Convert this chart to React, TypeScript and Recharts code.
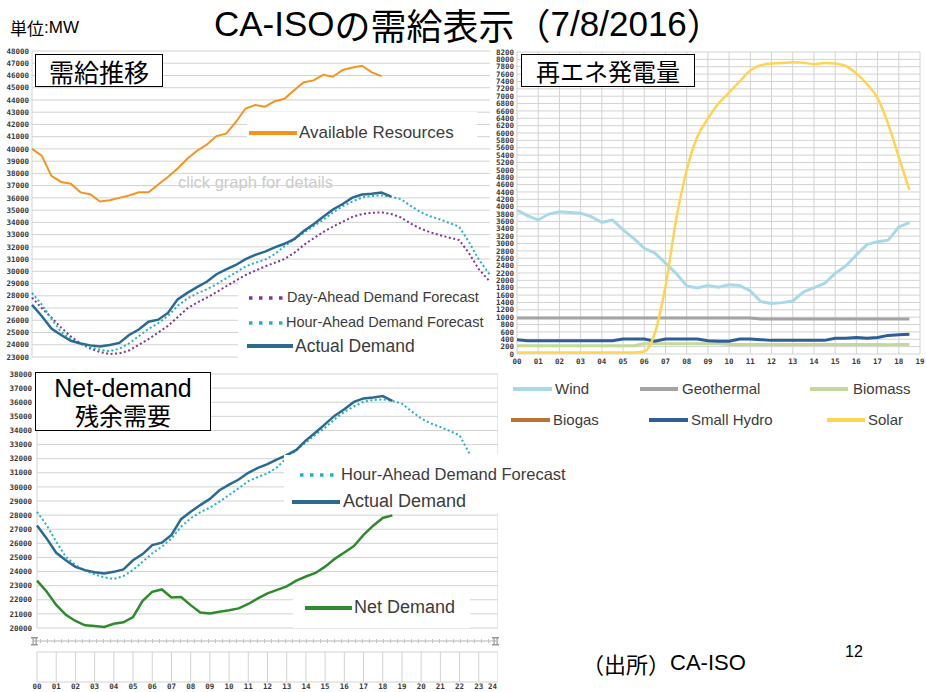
import React from 'react';
import { LineChart, Line, XAxis, YAxis, CartesianGrid, ReferenceLine } from 'recharts';

const range = (start: number, end: number, step: number) => {
  const out: number[] = [];
  for (let v = start; v <= end + 1e-9; v += step) out.push(Math.round(v * 100) / 100);
  return out;
};

// half-hour time grid 00:00 - 24:00
const HOURS = range(0, 24, 0.5);
const HOUR_TICKS = range(0, 24, 1);
const RE_HOUR_TICKS = range(0, 19, 1);
const SUPPLY_TICKS = range(23000, 48000, 1000);
const NET_TICKS = range(20000, 38000, 1000);
const RE_TICKS = range(0, 8200, 200);
const NAV_TICKS = [0, 1000];

// 需給推移 (MW), every 30 min
const AVAILABLE = [40000, 39450, 37800, 37300, 37150, 36450, 36300, 35700, 35800, 36000, 36200, 36450, 36450, 37100, 37700, 38400, 39200, 39850, 40350, 41050, 41250, 42200, 43300, 43590, 43450, 43900, 44100, 44800, 45450, 45600, 46050, 45900, 46450, 46650, 46800, 46250, 45950];
const DAY_AHEAD = [27850, 27000, 26230, 25400, 24680, 24100, 23690, 23400, 23250, 23300, 23530, 24000, 24460, 25000, 25540, 26250, 26970, 27450, 27850, 28300, 28780, 29250, 29700, 30050, 30400, 30700, 31000, 31500, 32150, 32700, 33200, 33650, 34050, 34450, 34680, 34780, 34820, 34680, 34400, 33900, 33500, 33200, 32950, 32750, 32550, 31500, 30200, 29300, 28400];
const HOUR_AHEAD = [28230, 27290, 26110, 25050, 24460, 24060, 23800, 23590, 23470, 23680, 24110, 24700, 25290, 25760, 26350, 27180, 27770, 28200, 28530, 28950, 29430, 29900, 30400, 30700, 30950, 31400, 32050, 32600, 33150, 33700, 34200, 34800, 35320, 35700, 36040, 36150, 36200, 36100, 35900, 35350, 34850, 34500, 34250, 33950, 33650, 32400, 31000, 29900, 28900];
const ACTUAL = [27260, 26350, 25330, 24800, 24330, 24100, 23950, 23860, 23980, 24150, 24800, 25240, 25880, 26050, 26600, 27710, 28240, 28710, 29150, 29760, 30160, 30520, 31000, 31350, 31610, 31950, 32250, 32620, 33300, 33850, 34450, 35050, 35500, 36020, 36270, 36340, 36440, 36100];
const NET_DEMAND = [23360, 22590, 21640, 20930, 20500, 20190, 20140, 20070, 20300, 20400, 20780, 21920, 22560, 22730, 22160, 22200, 21620, 21100, 21030, 21150, 21260, 21390, 21700, 22100, 22450, 22700, 22950, 23350, 23650, 23900, 24350, 24900, 25350, 25800, 26600, 27250, 27800, 27980];

// 再エネ発電量 (MW), every 30 min
const WIND = [3910, 3750, 3640, 3800, 3865, 3840, 3820, 3730, 3570, 3640, 3370, 3140, 2870, 2740, 2470, 2190, 1850, 1790, 1860, 1815, 1880, 1860, 1710, 1420, 1370, 1395, 1440, 1680, 1800, 1915, 2190, 2390, 2690, 2970, 3050, 3090, 3450, 3570];
const GEOTHERMAL = [975, 975, 975, 975, 975, 975, 975, 975, 975, 975, 975, 975, 975, 975, 975, 975, 975, 975, 975, 975, 975, 975, 975, 950, 950, 950, 950, 950, 950, 950, 950, 950, 950, 950, 950, 950, 950, 950];
const BIOMASS = [225, 225, 225, 225, 225, 225, 225, 225, 225, 225, 225, 225, 280, 280, 280, 280, 280, 280, 280, 280, 255, 255, 255, 255, 255, 255, 255, 255, 255, 255, 255, 255, 255, 255, 260, 250, 255, 255];
const SMALL_HYDRO = [385, 360, 360, 360, 360, 360, 360, 360, 360, 360, 405, 405, 405, 345, 405, 405, 405, 405, 360, 345, 345, 405, 405, 390, 370, 370, 370, 370, 370, 370, 430, 430, 450, 425, 450, 505, 525, 535];
const SOLAR = [40, 40, 40, 40, 40, 40, 40, 40, 40, 40, 40, 40, 70, 570, 1830, 3640, 4990, 5900, 6390, 6800, 7100, 7400, 7700, 7840, 7890, 7900, 7920, 7910, 7870, 7900, 7890, 7820, 7620, 7330, 6950, 6250, 5350, 4450];

const at = (arr: number[], i: number) => (i < arr.length ? arr[i] : null);

const demandRows = HOURS.map((h, i) => ({
  h,
  avail: at(AVAILABLE, i),
  dayAhead: at(DAY_AHEAD, i),
  hourAhead: at(HOUR_AHEAD, i),
  actual: at(ACTUAL, i),
  net: at(NET_DEMAND, i),
}));

const reRows = HOURS.filter((h) => h <= 19).map((h, i) => ({
  h,
  wind: at(WIND, i),
  geo: at(GEOTHERMAL, i),
  biomass: at(BIOMASS, i),
  hydro: at(SMALL_HYDRO, i),
  solar: at(SOLAR, i),
}));

const C = {
  avail: '#f7931e',
  dayAhead: '#80379a',
  hourAhead: '#22b3c0',
  actual: '#2a6a93',
  net: '#2e8b2e',
  wind: '#a9d9e8',
  geo: '#a3a3a3',
  biomass: '#c4d89c',
  biogas: '#b8733a',
  hydro: '#2f5d97',
  solar: '#ffd451',
  grid: '#d2d2d2',
};

const SANS = '"Liberation Sans", Arial, "Noto Sans CJK JP", sans-serif';
const JP = '"Noto Sans CJK JP", "Liberation Sans", sans-serif';
const TICK = { fontSize: 7.5, fontFamily: '"DejaVu Sans Mono", monospace', fontWeight: 700, fill: '#3a3a3a' };
const two = (v: number) => String(v).padStart(2, '0');

// navigator hour labels; the last one is pulled in so it stays on the page
const NavTick = (props: any) => {
  const { x, y, payload } = props;
  const last = payload.value === 24;
  return (
    <text x={last ? x - 1 : x} y={y} dy="0.71em" textAnchor={last ? 'end' : 'middle'} {...TICK}>
      {two(payload.value)}
    </text>
  );
};

const Swatch = ({ x, y, w, color, dotted }: { x: number; y: number; w: number; color: string; dotted?: boolean }) =>
  dotted ? (
    <svg style={{ position: 'absolute', left: x, top: y - 2, width: w, height: 4 }}>
      <line x1={0} y1={2} x2={w} y2={2} stroke={color} strokeWidth={3.5} strokeDasharray="3.5 6.5" />
    </svg>
  ) : (
    <div style={{ position: 'absolute', left: x, top: y - 2, width: w, height: 4, background: color }} />
  );

const Label = ({ x, y, size, children, color = '#3c3c3c' }: { x: number; y: number; size: number; children: React.ReactNode; color?: string }) => (
  <div style={{ position: 'absolute', left: x, top: y - size * 0.6, fontSize: size, lineHeight: `${size * 1.2}px`, color, whiteSpace: 'nowrap', fontFamily: SANS }}>
    {children}
  </div>
);

const Box = ({ x, y, w, h }: { x: number; y: number; w: number; h: number }) => (
  <div style={{ position: 'absolute', left: x, top: y, width: w, height: h, background: '#fff' }} />
);

const jpSpan = (size: number, lh: number): React.CSSProperties => ({ fontFamily: JP, fontSize: size, display: 'inline-block', lineHeight: `${lh}px`, height: lh, verticalAlign: 'top' });

export default function App() {
  return (
    <div style={{ position: 'absolute', left: 0, top: 0, width: 926, height: 692, overflow: 'hidden', background: '#fff', fontFamily: SANS }}>
      {/* 需給推移 */}
      <div style={{ position: 'absolute', left: 178, top: 172, fontSize: 16.5, lineHeight: '20px', color: '#cbcbcb', whiteSpace: 'nowrap' }}>
        click graph for details
      </div>
      <div style={{ position: 'absolute', left: 0, top: 40, width: 490, height: 322, overflow: 'hidden' }}>
        <LineChart width={498} height={322} data={demandRows} margin={{ top: 11, right: 0, bottom: 5, left: 0 }}>
          <CartesianGrid stroke={C.grid} />
          <XAxis type="number" dataKey="h" domain={[0, 24]} ticks={HOUR_TICKS} tick={false} tickLine={false} axisLine={false} height={0} />
          <YAxis type="number" domain={[23000, 48000]} ticks={SUPPLY_TICKS} interval={0} width={32} tick={TICK} tickLine={false} axisLine={false} tickSize={2} tickMargin={1} />
          <Line dataKey="avail" stroke={C.avail} strokeWidth={2} dot={false} isAnimationActive={false} type="linear" />
          <Line dataKey="dayAhead" stroke={C.dayAhead} strokeWidth={2} strokeDasharray="2 2.5" dot={false} isAnimationActive={false} type="linear" />
          <Line dataKey="hourAhead" stroke={C.hourAhead} strokeWidth={2} strokeDasharray="2 2.5" dot={false} isAnimationActive={false} type="linear" />
          <Line dataKey="actual" stroke={C.actual} strokeWidth={2.5} dot={false} isAnimationActive={false} type="linear" />
        </LineChart>
      </div>
      <Box x={247} y={112} w={230} h={35} />
      <Swatch x={249} y={133} w={48} color={C.avail} />
      <Label x={299} y={133} size={17}>Available Resources</Label>
      <Box x={238} y={281} w={252} h={80} />
      <Swatch x={249} y={298} w={38} color={C.dayAhead} dotted />
      <Label x={287} y={298} size={14.5}>Day-Ahead Demand Forecast</Label>
      <Swatch x={249} y={323} w={37} color={C.hourAhead} dotted />
      <Label x={286} y={323} size={14.5}>Hour-Ahead Demand Forecast</Label>
      <Swatch x={247} y={346} w={46} color={C.actual} />
      <Label x={295} y={346} size={17.5}>Actual Demand</Label>
      <div style={{ position: 'absolute', left: 35, top: 54, width: 128, height: 33, border: '1.5px solid #000', boxSizing: 'border-box', background: '#fff', display: 'flex', alignItems: 'center', justifyContent: 'center', color: '#000' }}>
        <span style={jpSpan(25, 30)}>需給推移</span>
      </div>

      {/* 再エネ発電量 */}
      <div style={{ position: 'absolute', left: 490, top: 40, width: 436, height: 330, background: '#fff' }}>
        <LineChart width={436} height={330} data={reRows} margin={{ top: 12, right: 6, bottom: 2, left: 0 }}>
          <CartesianGrid stroke={C.grid} />
          <XAxis type="number" dataKey="h" domain={[0, 19]} ticks={RE_HOUR_TICKS} interval={0} tickFormatter={two} tick={TICK} tickLine={false} axisLine={false} height={14} tickSize={0} tickMargin={5} />
          <YAxis type="number" domain={[0, 8200]} ticks={RE_TICKS} interval={0} width={27} tick={TICK} tickLine={false} axisLine={false} tickSize={2} tickMargin={1} />
          <Line dataKey="geo" stroke={C.geo} strokeWidth={3} dot={false} isAnimationActive={false} type="linear" />
          <Line dataKey="biomass" stroke={C.biomass} strokeWidth={3} dot={false} isAnimationActive={false} type="linear" />
          <Line dataKey="hydro" stroke={C.hydro} strokeWidth={3} dot={false} isAnimationActive={false} type="linear" />
          <Line dataKey="wind" stroke={C.wind} strokeWidth={3} dot={false} isAnimationActive={false} type="linear" />
          <Line dataKey="solar" stroke={C.solar} strokeWidth={2.5} dot={false} isAnimationActive={false} type="monotone" />
        </LineChart>
      </div>
      <div style={{ position: 'absolute', left: 521, top: 54, width: 174, height: 33, border: '1.5px solid #000', boxSizing: 'border-box', background: '#fff', display: 'flex', alignItems: 'center', justifyContent: 'center', color: '#000' }}>
        <span style={jpSpan(24, 30)}>再エネ発電量</span>
      </div>
      <Swatch x={513} y={389} w={39} color={C.wind} />
      <Label x={555} y={389} size={15}>Wind</Label>
      <Swatch x={640} y={389} w={38} color={C.geo} />
      <Label x={682} y={389} size={15}>Geothermal</Label>
      <Swatch x={810} y={389} w={38} color={C.biomass} />
      <Label x={853} y={389} size={15}>Biomass</Label>
      <Swatch x={511} y={420} w={39} color={C.biogas} />
      <Label x={553} y={420} size={15}>Biogas</Label>
      <Swatch x={649} y={420} w={39} color={C.hydro} />
      <Label x={691} y={420} size={15}>Small Hydro</Label>
      <Swatch x={827} y={420} w={38} color={C.solar} />
      <Label x={868} y={420} size={15}>Solar</Label>

      {/* Net-demand */}
      <div style={{ position: 'absolute', left: 0, top: 362, width: 498, height: 272, background: '#fff' }}>
        <LineChart width={498} height={272} data={demandRows} margin={{ top: 12, right: 0, bottom: 6, left: 0 }}>
          <CartesianGrid stroke={C.grid} />
          <XAxis type="number" dataKey="h" domain={[0, 24]} ticks={HOUR_TICKS} tick={false} tickLine={false} axisLine={false} height={0} />
          <YAxis type="number" domain={[20000, 38000]} ticks={NET_TICKS} interval={0} width={37} tick={TICK} tickLine={false} axisLine={false} tickSize={2} tickMargin={3} />
          <Line dataKey="hourAhead" stroke={C.hourAhead} strokeWidth={2} strokeDasharray="2 2.5" dot={false} isAnimationActive={false} type="linear" />
          <Line dataKey="actual" stroke={C.actual} strokeWidth={2.5} dot={false} isAnimationActive={false} type="linear" />
          <Line dataKey="net" stroke={C.net} strokeWidth={2.5} dot={false} isAnimationActive={false} type="linear" />
        </LineChart>
      </div>
      <Box x={284} y={455} w={280} h={58} />
      <Swatch x={300} y={475} w={39} color={C.hourAhead} dotted />
      <Label x={341} y={475} size={16.5}>Hour-Ahead Demand Forecast</Label>
      <Swatch x={292} y={502} w={48} color={C.actual} />
      <Label x={343} y={502} size={18}>Actual Demand</Label>
      <Box x={293} y={588} w={177} h={40} />
      <Swatch x={305} y={608} w={47} color={C.net} />
      <Label x={354} y={608} size={18}>Net Demand</Label>
      <div style={{ position: 'absolute', left: 35, top: 372, width: 176, height: 59, border: '1.5px solid #000', boxSizing: 'border-box', background: '#fff', display: 'flex', flexDirection: 'column', alignItems: 'center', justifyContent: 'center', color: '#000' }}>
        <span style={{ fontFamily: SANS, fontSize: 25, lineHeight: '26px', display: 'block', height: 26 }}>Net-demand</span>
        <span style={{ ...jpSpan(24, 27), display: 'block' }}>残余需要</span>
      </div>

      {/* range navigator */}
      <div style={{ position: 'absolute', left: 0, top: 630, width: 498, height: 62 }}>
        <LineChart width={498} height={62} data={demandRows} margin={{ top: 22, right: 0, bottom: 1, left: 0 }}>
          <CartesianGrid stroke={C.grid} />
          <XAxis type="number" dataKey="h" domain={[0, 24]} ticks={HOUR_TICKS} interval={0} tick={<NavTick />} tickLine={false} axisLine={false} height={9} tickSize={0} tickMargin={2} />
          <YAxis type="number" domain={[0, 2100]} ticks={NAV_TICKS} interval={0} width={37} tick={TICK} tickLine={false} axisLine={false} tickSize={2} tickMargin={3} />
          <ReferenceLine y={2100} stroke={C.grid} />
          <Line dataKey="navigator" stroke="#ddd" dot={false} isAnimationActive={false} />
        </LineChart>
      </div>
      <svg style={{ position: 'absolute', left: 0, top: 634, width: 500, height: 14 }}>
        <line x1={34} y1={7} x2={496} y2={7} stroke="#b5b5b5" strokeWidth={1} />
        <line x1={40} y1={7} x2={490} y2={7} stroke="#c4c4c4" strokeWidth={4} strokeDasharray="1 6" />
        <rect x={31} y={3} width={7} height={1.5} fill="#999" />
        <rect x={31} y={10} width={7} height={1.5} fill="#999" />
        <rect x={32.5} y={3} width={1.2} height={8} fill="#999" />
        <rect x={35.5} y={3} width={1.2} height={8} fill="#999" />
        <rect x={492} y={3} width={7} height={1.5} fill="#999" />
        <rect x={492} y={10} width={7} height={1.5} fill="#999" />
        <rect x={493.5} y={3} width={1.2} height={8} fill="#999" />
        <rect x={496.5} y={3} width={1.2} height={8} fill="#999" />
      </svg>

      {/* header (drawn last so it sits above the chart panels) */}
      <div style={{ position: 'absolute', left: 10, top: 17, fontSize: 17, lineHeight: '22px', height: 22, color: '#000', whiteSpace: 'nowrap' }}>
        <span style={jpSpan(17, 22)}>単位</span>:MW
      </div>
      <div style={{ position: 'absolute', left: 214, top: 5, fontSize: 35, lineHeight: '38px', height: 38, color: '#000', whiteSpace: 'nowrap' }}>
        CA-ISO<span style={jpSpan(36, 38)}>の需給表示（</span>7/8/2016<span style={jpSpan(36, 38)}>）</span>
      </div>

      {/* footer */}
      <div style={{ position: 'absolute', left: 582, top: 650, fontSize: 22, lineHeight: '26px', height: 26, color: '#000', whiteSpace: 'nowrap' }}>
        <span style={jpSpan(22, 26)}>（出所）</span>CA-ISO
      </div>
      <div style={{ position: 'absolute', left: 845, top: 643, fontSize: 16, lineHeight: '18px', color: '#000' }}>12</div>
    </div>
  );
}
